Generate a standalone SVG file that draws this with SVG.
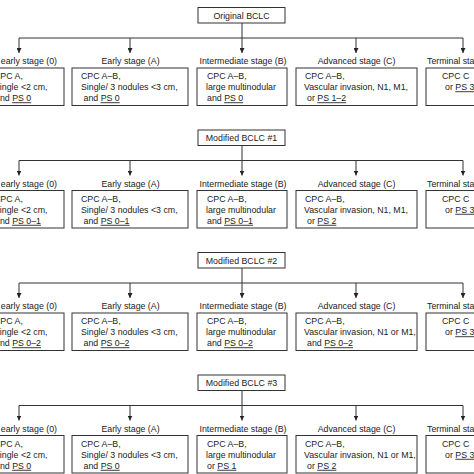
<svg xmlns="http://www.w3.org/2000/svg" width="474" height="474" viewBox="0 0 474 474">
<style>
.bg{fill:#fff}
.box{fill:#fff;stroke:#333;stroke-width:1}
.ln{fill:none;stroke:#333;stroke-width:1}
.ar{fill:none;stroke:#333;stroke-width:1;marker-end:url(#ah)}
text{font-family:"Liberation Sans",Arial,sans-serif;font-size:8.8px;fill:#222}
.c{text-anchor:middle}
.e{text-anchor:end}
.u{text-decoration:underline}
</style>
<defs>
<marker id="ah" viewBox="0 0 6 6" refX="6" refY="3" markerWidth="5" markerHeight="5" orient="auto" markerUnits="userSpaceOnUse"><path d="M0,0 L6,3 L0,6 z" fill="#222"/></marker>
</defs>
<rect class="bg" x="0" y="0" width="474" height="474"/>

<g id="connectors">
<path class="ar" d="M242 23 V53"/><path class="ln" d="M19 38 H463"/>
<path class="ar" d="M19 38 V53"/><path class="ar" d="M130 38 V53"/><path class="ar" d="M356 38 V53"/><path class="ar" d="M463 38 V53"/>
<path class="ar" d="M242 145.5 V175.5"/><path class="ln" d="M19 160.5 H463"/>
<path class="ar" d="M19 160.5 V175.5"/><path class="ar" d="M130 160.5 V175.5"/><path class="ar" d="M356 160.5 V175.5"/><path class="ar" d="M463 160.5 V175.5"/>
<path class="ar" d="M242 268 V298"/><path class="ln" d="M19 283 H463"/>
<path class="ar" d="M19 283 V298"/><path class="ar" d="M130 283 V298"/><path class="ar" d="M356 283 V298"/><path class="ar" d="M463 283 V298"/>
<path class="ar" d="M242 390.5 V420.5"/><path class="ln" d="M19 405.5 H463"/>
<path class="ar" d="M19 405.5 V420.5"/><path class="ar" d="M130 405.5 V420.5"/><path class="ar" d="M356 405.5 V420.5"/><path class="ar" d="M463 405.5 V420.5"/>
</g>

<!-- Section: Original BCLC -->
<g id="orig-title"><rect class="box" x="198" y="7.5" width="87" height="15.5"/><text class="c" x="241.5" y="18.6">Original BCLC</text></g>
<g id="orig-0"><text class="e" x="57" y="64.3">Very early stage (0)</text><rect class="box" x="-20" y="68" width="84" height="37.5"/>
<text x="-6" y="79.3">CPC A,</text><text x="-6" y="90.3">Single &lt;2 cm,</text><text x="-5" y="101.3">and <tspan class="u">PS 0</tspan></text></g>
<g id="orig-A"><text class="c" x="130.5" y="64.3">Early stage (A)</text><rect class="box" x="72" y="68" width="116" height="37.5"/>
<text x="81" y="79.3">CPC A–B,</text><text x="81" y="90.3">Single/ 3 nodules &lt;3 cm,</text><text x="83.5" y="101.3">and <tspan class="u">PS 0</tspan></text></g>
<g id="orig-B"><text class="c" x="243" y="64.3">Intermediate stage (B)</text><rect class="box" x="197" y="68" width="90" height="37.5"/>
<text x="207" y="79.3">CPC A–B,</text><text x="206" y="90.3">large multinodular</text><text x="207" y="101.3">and <tspan class="u">PS 0</tspan></text></g>
<g id="orig-C"><text class="c" x="356.5" y="64.3">Advanced stage (C)</text><rect class="box" x="296" y="68" width="121" height="37.5"/>
<text x="305" y="79.3">CPC A–B,</text><text x="304" y="90.3">Vascular invasion, N1, M1,</text><text x="307" y="101.3">or <tspan class="u">PS 1–2</tspan></text></g>
<g id="orig-D"><text x="427" y="64.3">Terminal stage (D)</text><rect class="box" x="426" y="68" width="80" height="37.5"/>
<text x="442" y="79.3">CPC C</text><text x="445" y="90.3">or <tspan class="u">PS 3</tspan></text></g>

<!-- Section: Modified BCLC #1 -->
<g id="m1-title"><rect class="box" x="198" y="130" width="87" height="15.5"/><text class="c" x="241.5" y="141.1">Modified BCLC #1</text></g>
<g id="m1-0"><text class="e" x="57" y="186.8">Very early stage (0)</text><rect class="box" x="-20" y="190.5" width="84" height="37.5"/>
<text x="-6" y="201.8">CPC A,</text><text x="-6" y="212.8">Single &lt;2 cm,</text><text x="-5" y="223.8">and <tspan class="u">PS 0–1</tspan></text></g>
<g id="m1-A"><text class="c" x="130.5" y="186.8">Early stage (A)</text><rect class="box" x="72" y="190.5" width="116" height="37.5"/>
<text x="81" y="201.8">CPC A–B,</text><text x="81" y="212.8">Single/ 3 nodules &lt;3 cm,</text><text x="83.5" y="223.8">and <tspan class="u">PS 0–1</tspan></text></g>
<g id="m1-B"><text class="c" x="243" y="186.8">Intermediate stage (B)</text><rect class="box" x="197" y="190.5" width="90" height="37.5"/>
<text x="207" y="201.8">CPC A–B,</text><text x="206" y="212.8">large multinodular</text><text x="207" y="223.8">and <tspan class="u">PS 0–1</tspan></text></g>
<g id="m1-C"><text class="c" x="356.5" y="186.8">Advanced stage (C)</text><rect class="box" x="296" y="190.5" width="121" height="37.5"/>
<text x="305" y="201.8">CPC A–B,</text><text x="304" y="212.8">Vascular invasion, N1, M1,</text><text x="307" y="223.8">or <tspan class="u">PS 2</tspan></text></g>
<g id="m1-D"><text x="427" y="186.8">Terminal stage (D)</text><rect class="box" x="426" y="190.5" width="80" height="37.5"/>
<text x="442" y="201.8">CPC C</text><text x="445" y="212.8">or <tspan class="u">PS 3</tspan></text></g>

<!-- Section: Modified BCLC #2 -->
<g id="m2-title"><rect class="box" x="198" y="252.5" width="87" height="15.5"/><text class="c" x="241.5" y="263.6">Modified BCLC #2</text></g>
<g id="m2-0"><text class="e" x="57" y="309.3">Very early stage (0)</text><rect class="box" x="-20" y="313" width="84" height="37.5"/>
<text x="-6" y="324.3">CPC A,</text><text x="-6" y="335.3">Single &lt;2 cm,</text><text x="-5" y="346.3">and <tspan class="u">PS 0–2</tspan></text></g>
<g id="m2-A"><text class="c" x="130.5" y="309.3">Early stage (A)</text><rect class="box" x="72" y="313" width="116" height="37.5"/>
<text x="81" y="324.3">CPC A–B,</text><text x="81" y="335.3">Single/ 3 nodules &lt;3 cm,</text><text x="83.5" y="346.3">and <tspan class="u">PS 0–2</tspan></text></g>
<g id="m2-B"><text class="c" x="243" y="309.3">Intermediate stage (B)</text><rect class="box" x="197" y="313" width="90" height="37.5"/>
<text x="207" y="324.3">CPC A–B,</text><text x="206" y="335.3">large multinodular</text><text x="207" y="346.3">and <tspan class="u">PS 0–2</tspan></text></g>
<g id="m2-C"><text class="c" x="356.5" y="309.3">Advanced stage (C)</text><rect class="box" x="296" y="313" width="121" height="37.5"/>
<text x="305" y="324.3">CPC A–B,</text><text x="304" y="335.3">Vascular invasion, N1 or M1,</text><text x="307" y="346.3">and <tspan class="u">PS 0–2</tspan></text></g>
<g id="m2-D"><text x="427" y="309.3">Terminal stage (D)</text><rect class="box" x="426" y="313" width="80" height="37.5"/>
<text x="442" y="324.3">CPC C</text><text x="445" y="335.3">or <tspan class="u">PS 3</tspan></text></g>

<!-- Section: Modified BCLC #3 -->
<g id="m3-title"><rect class="box" x="198" y="375" width="87" height="15.5"/><text class="c" x="241.5" y="386.1">Modified BCLC #3</text></g>
<g id="m3-0"><text class="e" x="57" y="431.8">Very early stage (0)</text><rect class="box" x="-20" y="435.5" width="84" height="37.5"/>
<text x="-6" y="446.8">CPC A,</text><text x="-6" y="457.8">Single &lt;2 cm,</text><text x="-5" y="468.8">and <tspan class="u">PS 0</tspan></text></g>
<g id="m3-A"><text class="c" x="130.5" y="431.8">Early stage (A)</text><rect class="box" x="72" y="435.5" width="116" height="37.5"/>
<text x="81" y="446.8">CPC A–B,</text><text x="81" y="457.8">Single/ 3 nodules &lt;3 cm,</text><text x="83.5" y="468.8">and <tspan class="u">PS 0</tspan></text></g>
<g id="m3-B"><text class="c" x="243" y="431.8">Intermediate stage (B)</text><rect class="box" x="197" y="435.5" width="90" height="37.5"/>
<text x="207" y="446.8">CPC A–B,</text><text x="206" y="457.8">large multinodular</text><text x="207" y="468.8">or <tspan class="u">PS 1</tspan></text></g>
<g id="m3-C"><text class="c" x="356.5" y="431.8">Advanced stage (C)</text><rect class="box" x="296" y="435.5" width="121" height="37.5"/>
<text x="305" y="446.8">CPC A–B,</text><text x="304" y="457.8">Vascular invasion, N1 or M1,</text><text x="307" y="468.8">or <tspan class="u">PS 2</tspan></text></g>
<g id="m3-D"><text x="427" y="431.8">Terminal stage (D)</text><rect class="box" x="426" y="435.5" width="80" height="37.5"/>
<text x="442" y="446.8">CPC C</text><text x="445" y="457.8">or <tspan class="u">PS 3</tspan></text></g>
</svg>
